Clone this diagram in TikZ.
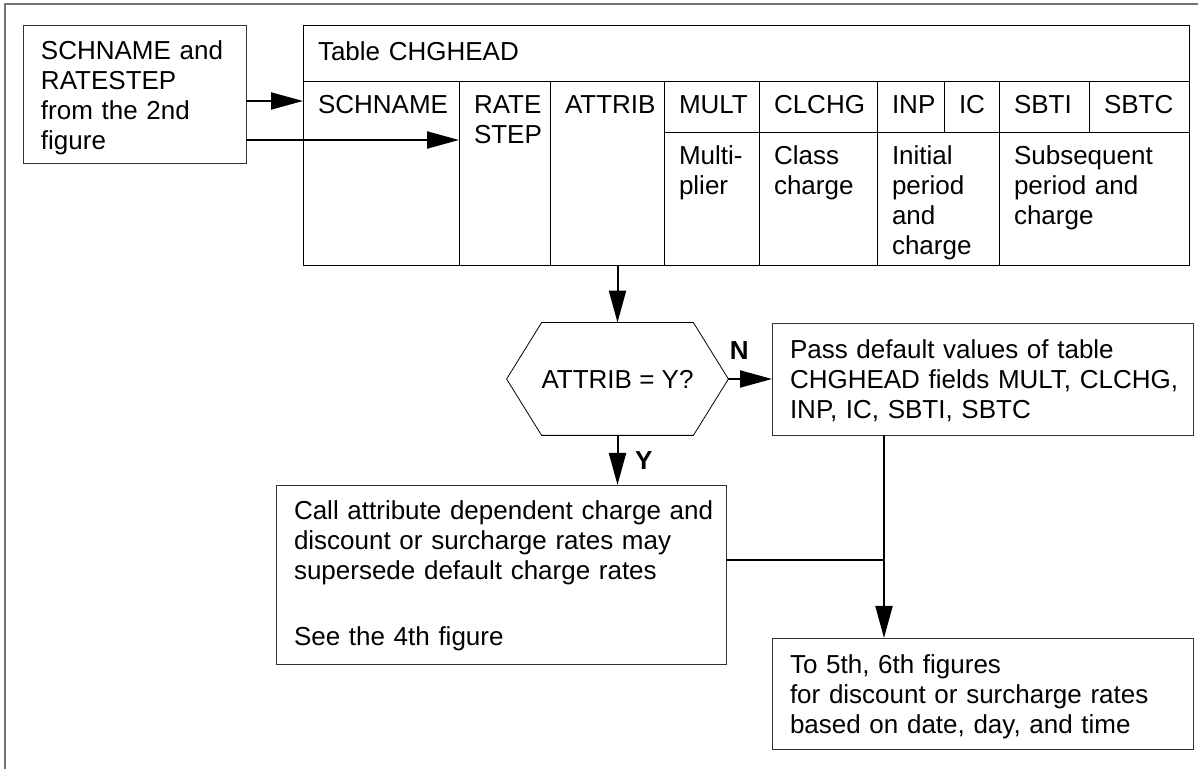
\documentclass[tikz,border=0pt]{standalone}
\usepackage{fontspec}
\setmainfont{Liberation Sans}
\usetikzlibrary{arrows.meta}

\begin{document}
\begin{tikzpicture}[x=0.5pt, y=-0.5pt, font=\fontsize{13}{15}\selectfont,
    cell/.style={draw, anchor=north west, inner sep=0pt, outer sep=0pt, text height=16.5pt, execute at begin node={\leftskip=7.5pt}},
    box/.style={cell, draw=black!80, text height=18pt, execute at begin node={\leftskip=9pt}},
    arr/.style={-{Triangle[length=16pt, width=8.5pt]}, line width=1pt},
    lbl/.style={font=\fontsize{13}{15}\selectfont\bfseries}]
  \useasboundingbox (0,0) rectangle (1200,769);
  \draw[black!55, line width=0.75pt] (1198,4) -- (5,4) -- (5,769);

  % input
  \node[box, text width=111.5pt, text height=17.5pt, text depth=51.5pt] (src) at (23,25) {SCHNAME and\\RATESTEP\\from the 2nd\\figure};

  % table CHGHEAD
  \node[cell, text width=443pt, text height=18pt, text depth=10pt] (title) at (303,25) {Table CHGHEAD};
  \node[cell, text width=78pt, text depth=75.5pt] (schname) at (303,81) {SCHNAME};
  \node[cell, text width=45.5pt, text depth=75.5pt] (rate) at (459,81) {RATE\\STEP};
  \node[cell, text width=57pt, text depth=75.5pt] (attrib) at (550,81) {ATTRIB};
  \node[cell, text width=47.5pt, text depth=9pt] (mult) at (664,81) {MULT};
  \node[cell, text width=59pt, text depth=9pt] (clchg) at (759,81) {CLCHG};
  \node[cell, text width=33.5pt, text depth=9pt] (inp) at (877,81) {INP};
  \node[cell, text width=27.5pt, text depth=9pt] (ic) at (944,81) {IC};
  \node[cell, text width=45pt, text depth=9pt] (sbti) at (999,81) {SBTI};
  \node[cell, text width=50pt, text depth=9pt] (sbtc) at (1089,81) {SBTC};
  \node[cell, text width=47.5pt, text depth=50pt] (multd) at (664,132) {Multi-\\plier};
  \node[cell, text width=59pt, text depth=50pt] (clchgd) at (759,132) {Class\\charge};
  \node[cell, text width=61pt, text depth=50pt] (inpd) at (877,132) {Initial\\period\\and\\charge};
  \node[cell, text width=95pt, text depth=50pt] (sbtd) at (999,132) {Subsequent\\period and\\charge};

  % decision
  \node[minimum width=110.5pt, minimum height=56pt, inner sep=0pt] (dec) at (617.5,379) {ATTRIB = Y?};
  \draw (dec.west) -- ([xshift=17.5pt]dec.north west) -- ([xshift=-17.5pt]dec.north east) -- (dec.east)
    -- ([xshift=-17.5pt]dec.south east) -- ([xshift=17.5pt]dec.south west) -- cycle;

  \node[box, text width=210.5pt, text depth=38pt] (pass) at (772,323) {Pass default values of table\\CHGHEAD fields MULT, CLCHG,\\INP, IC, SBTI, SBTC};
  \node[box, text width=225pt, text height=17.5pt, text depth=72pt] (call) at (276,485) {Call attribute dependent charge and\\discount or surcharge rates may\\supersede default charge rates\\[18pt]See the 4th figure};
  \node[box, text width=210.5pt, text depth=37.5pt] (fin) at (772,638) {To 5th, 6th figures\\for discount or surcharge rates\\based on date, day, and time};
  \coordinate (jn) at (884,560);

  % connectors
  \draw[arr] ([yshift=-3.5pt]src.east) -- ([yshift=-3.5pt]src.east -| schname.west);
  \draw[arr] ([yshift=-23pt]src.east) -- ([yshift=-23pt]src.east -| rate.west);
  \draw[arr] (dec.north |- attrib.south) -- (dec.north);
  \draw[arr] (dec.east) -- node[lbl, near start, above=6pt] (lblN) {N} (pass.west);
  \draw[arr] (dec.south) -- node[lbl, right=5pt] (lblY) {Y} (dec.south |- call.north);
  \draw[line width=1pt] (call.east |- jn) -- (jn);
  \draw[arr] (pass.south -| jn) -- (fin.north -| jn);
\end{tikzpicture}
\end{document}
